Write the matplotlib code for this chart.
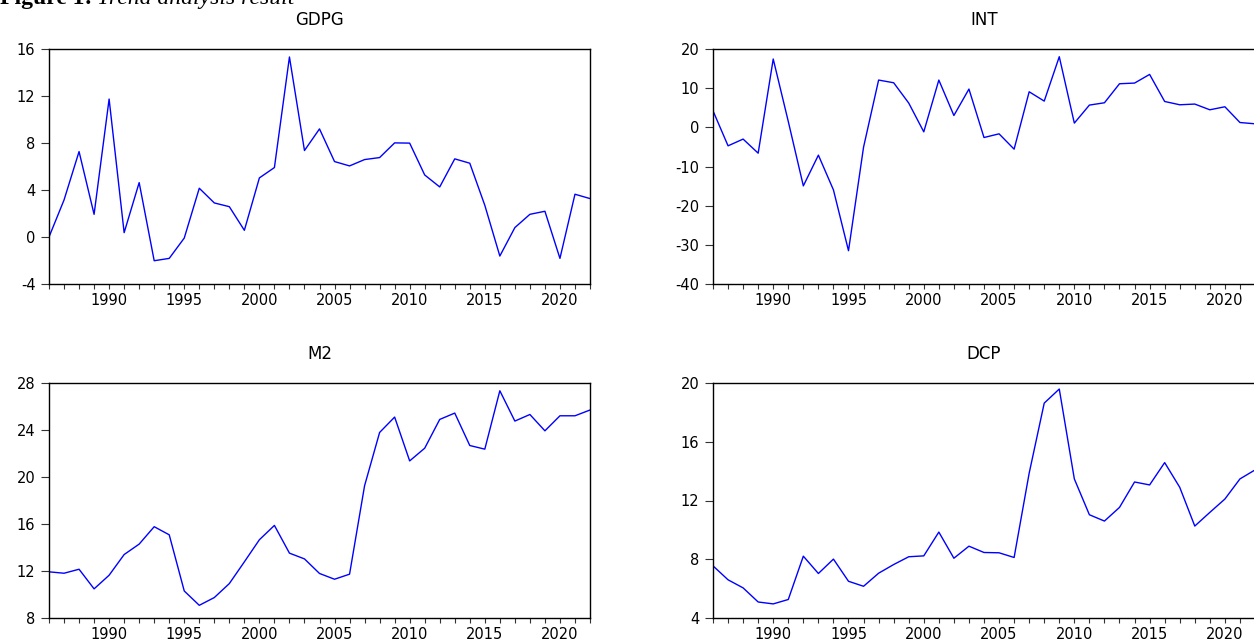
import numpy as np
import matplotlib
matplotlib.use("Agg")
import matplotlib.pyplot as plt
from matplotlib.ticker import MultipleLocator

years = np.arange(1986, 2023)

gdpg = [0.0, 3.15, 7.27, 1.93, 11.74, 0.37, 4.63, -2.02, -1.82, -0.09,
        4.15, 2.9, 2.58, 0.57, 5.03, 5.91, 15.32, 7.36, 9.2, 6.42,
        6.05, 6.59, 6.76, 8.01, 7.99, 5.28, 4.26, 6.65, 6.28, 2.7,
        -1.62, 0.8, 1.93, 2.19, -1.82, 3.64, 3.27]
int_ = [4.22, -4.72, -3.0, -6.6, 17.44, 1.5, -14.95, -7.1, -15.98, -31.5,
        -5.06, 12.07, 11.38, 6.2, -1.15, 12.07, 3.02, 9.77, -2.6, -1.66,
        -5.57, 9.08, 6.7, 18.03, 1.08, 5.68, 6.27, 11.13, 11.3, 13.51,
        6.6, 5.76, 5.94, 4.48, 5.25, 1.23, 0.9]
m2 = [11.93, 11.81, 12.15, 10.48, 11.64, 13.4, 14.29, 15.77, 15.08, 10.3,
      9.08, 9.74, 10.93, 12.78, 14.66, 15.88, 13.52, 13.03, 11.79, 11.3,
      11.73, 19.26, 23.79, 25.1, 21.37, 22.45, 24.9, 25.44, 22.68, 22.37,
      27.34, 24.76, 25.32, 23.93, 25.21, 25.21, 25.7]
dcp = [7.55, 6.6, 6.05, 5.09, 4.96, 5.26, 8.21, 7.03, 8.01, 6.5,
       6.16, 7.05, 7.64, 8.17, 8.23, 9.85, 8.07, 8.89, 8.46, 8.44,
       8.12, 13.86, 18.63, 19.59, 13.47, 11.03, 10.6, 11.53, 13.26, 13.06,
       14.58, 12.9, 10.26, 11.19, 12.1, 13.47, 14.08]

names = ["GDPG", "INT", "M2", "DCP"]
series = [gdpg, int_, m2, dcp]
ylims = [(-4, 16), (-40, 20), (8, 28), (4, 20)]
ysteps = [4, 10, 4, 4]

plt.rcParams['font.family'] = ['DejaVu Sans']
plt.rcParams['axes.unicode_minus'] = False

W, H = 1254, 640
fig = plt.figure(figsize=(W / 100, H / 100), dpi=100)

# axes boxes in pixels: left, top, right, bottom
boxes = [(49, 49, 590, 284), (713, 49, 1255, 284),
         (49, 383, 590, 618), (713, 383, 1255, 618)]

for name, vals, yl, st, (l, t, r, b) in zip(names, series, ylims, ysteps, boxes):
    ax = fig.add_axes([l / W, 1 - b / H, (r - l) / W, (b - t) / H])
    ax.plot(years, vals, color="#0000ff", lw=1.0)
    ax.set_xlim(1986, 2022)
    ax.set_ylim(*yl)
    ax.xaxis.set_major_locator(MultipleLocator(5))
    ax.xaxis.set_minor_locator(MultipleLocator(1))
    ax.yaxis.set_major_locator(MultipleLocator(st))
    ax.tick_params(axis="x", which="both", direction="out", length=3.3,
                   width=0.8, color="#333333", labelsize=10.5, pad=3)
    ax.tick_params(axis="y", direction="out", length=5.8, width=0.8,
                   color="#333333", labelsize=10.5, pad=4)
    for sp in ax.spines.values():
        sp.set_linewidth(1.0)
        sp.set_color("black")
    ax.set_title(name, fontsize=12, pad=17)

# caption, cut off at the top edge like the source
t1 = fig.text(0.0, 1 - 4 / H, "Figure 1:", fontsize=17, fontweight="bold",
              family="Liberation Serif", va="baseline", ha="left")
fig.canvas.draw()
ext = t1.get_window_extent()
fig.text((ext.x1 + 5) / W, 1 - 4 / H, "Trend analysis result", fontsize=17,
         style="italic", family="Liberation Serif", va="baseline", ha="left")

fig.savefig("out.png", dpi=100)
